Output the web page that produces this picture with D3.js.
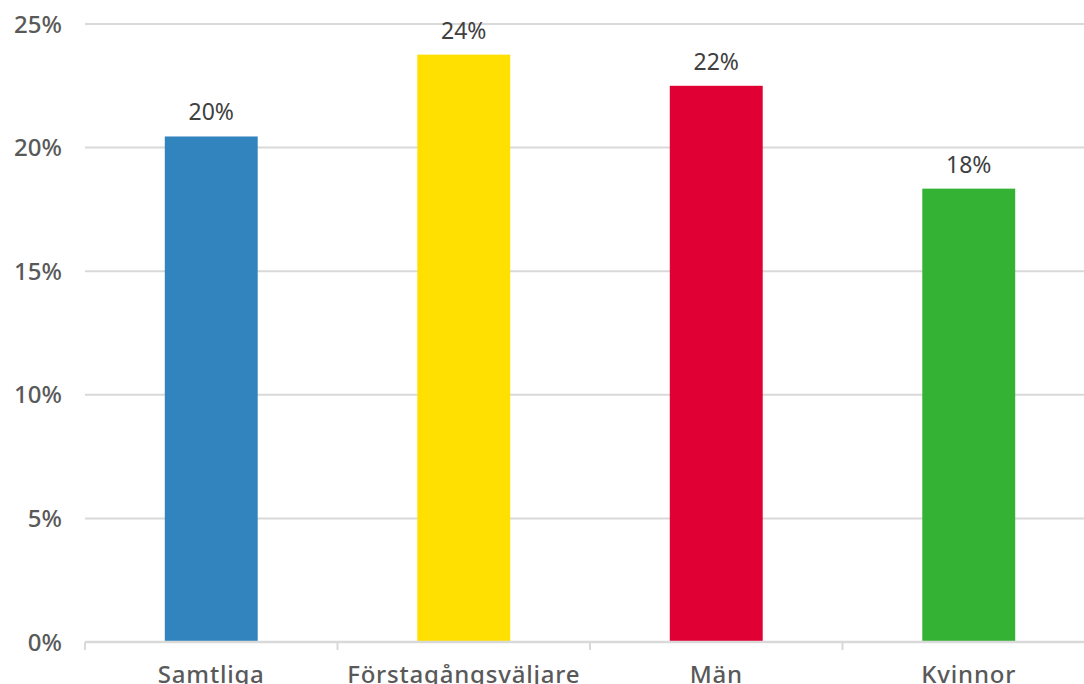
<!DOCTYPE html>
<html>
<head>
<meta charset="utf-8">
<script src="https://cdn.jsdelivr.net/npm/d3@7"></script>
<style>
  body { margin: 0; background: #fff; }
  svg { display: block; font-family: "Noto Sans", sans-serif; }
</style>
</head>
<body>
<div class="container"></div>
<script>
const categories = ['Samtliga', 'Förstagångsväljare', 'Män', 'Kvinnor'];
const values = [20.45, 23.76, 22.5, 18.34];
const labels = ['20%', '24%', '22%', '18%'];
const colors = ['#3284be', '#ffe000', '#e00034', '#34b233'];
const yTicks = [0, 5, 10, 15, 20, 25];

const w = 1084;
const h = 684;
const margin = { top: 24, left: 85, right: -11, bottom: 42 };

const svg = d3.select('.container')
    .append('svg')
    .attr('width', w)
    .attr('height', h);

const x = d3.scaleBand().domain(categories).range([margin.left, w - margin.right]).padding(0);
const y = d3.scaleLinear().domain([0, 25]).range([h - margin.bottom, margin.top]);
const barW = x.bandwidth() * 0.368;

// gridlines
svg.append('g')
    .selectAll('line')
    .data(yTicks.filter(d => d > 0))
    .join('line')
    .attr('x1', margin.left)
    .attr('x2', w)
    .attr('y1', d => y(d))
    .attr('y2', d => y(d))
    .attr('stroke', '#d9d9d9')
    .attr('stroke-width', 2);

// y labels
svg.append('g')
    .selectAll('text')
    .data(yTicks)
    .join('text')
    .attr('x', 62)
    .attr('y', d => y(d))
    .attr('dy', '0.36em')
    .attr('text-anchor', 'end')
    .style('font-size', '24px')
    .style('font-weight', 500)
    .style('fill', '#595959')
    .text(d => d + '%');

// bars
svg.append('g')
    .selectAll('rect')
    .data(values)
    .join('rect')
    .attr('x', (d, i) => x(categories[i]) + (x.bandwidth() - barW) / 2)
    .attr('width', barW)
    .attr('y', d => y(d))
    .attr('height', d => y(0) - y(d))
    .attr('fill', (d, i) => colors[i]);

// value labels
svg.append('g')
    .selectAll('text')
    .data(values)
    .join('text')
    .attr('x', (d, i) => x(categories[i]) + x.bandwidth() / 2)
    .attr('y', d => y(d) - 16)
    .attr('text-anchor', 'middle')
    .style('font-size', '23px')
    .style('fill', '#404040')
    .text((d, i) => labels[i]);

// x axis line + ticks between categories
svg.append('line')
    .attr('x1', margin.left)
    .attr('x2', w)
    .attr('y1', y(0))
    .attr('y2', y(0))
    .attr('stroke', '#d9d9d9')
    .attr('stroke-width', 2.5);

svg.append('g')
    .selectAll('line')
    .data(categories)
    .join('line')
    .attr('x1', d => x(d))
    .attr('x2', d => x(d))
    .attr('y1', y(0))
    .attr('y2', y(0) + 8)
    .attr('stroke', '#d9d9d9')
    .attr('stroke-width', 2);

svg.append('g')
    .selectAll('text')
    .data(categories)
    .join('text')
    .attr('x', d => x(d) + x.bandwidth() / 2)
    .attr('y', y(0) + 41)
    .attr('text-anchor', 'middle')
    .style('font-size', '24px')
    .style('font-weight', 500)
    .style('letter-spacing', '0.8px')
    .style('fill', '#595959')
    .text(d => d);
</script>
</body>
</html>
